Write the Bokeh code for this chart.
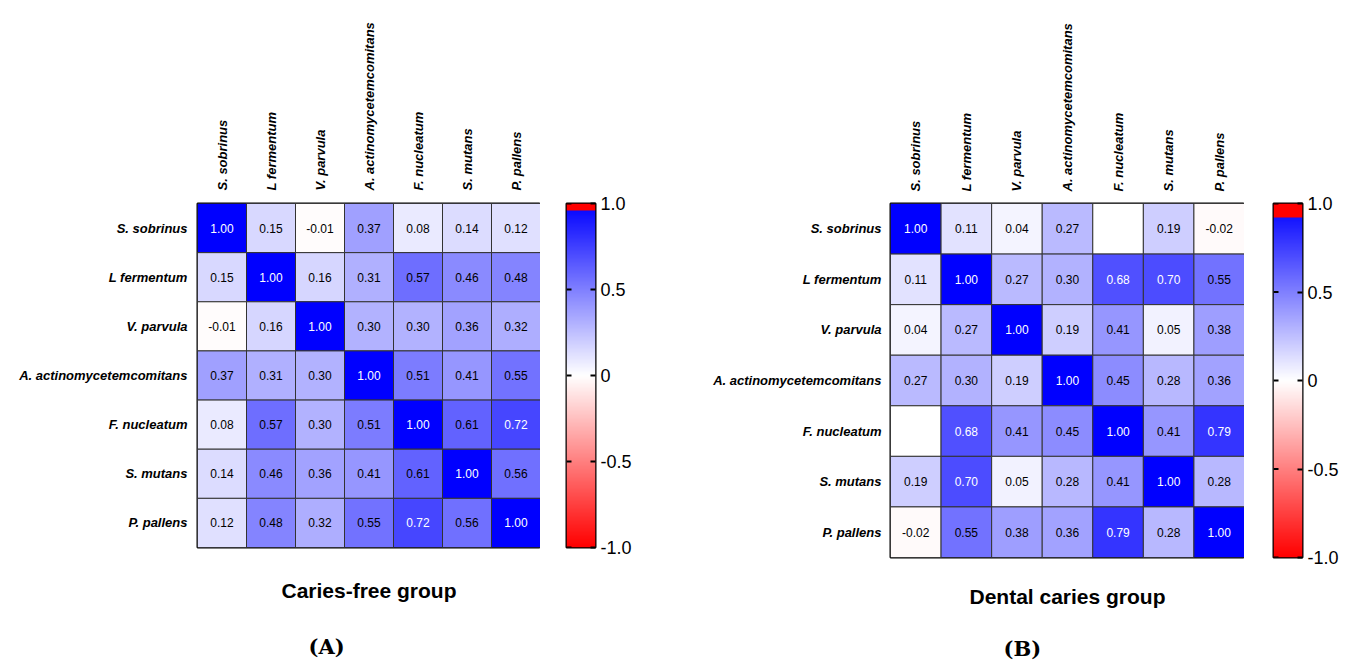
import numpy as np
from bokeh.plotting import figure
from bokeh.models import (ColumnDataSource, FactorRange, Range1d, LinearColorMapper,
                          LinearAxis, FixedTicker, Title)
from bokeh.layouts import row
from bokeh.transform import transform
from bokeh.core.properties import value
from bokeh.embed import file_html
from bokeh.resources import INLINE

# ---------------- data ----------------
species = ["S. sobrinus", "L fermentum", "V. parvula", "A. actinomycetemcomitans",
           "F. nucleatum", "S. mutans", "P. pallens"]

caries_free = [
    [1.00, 0.15, -0.01, 0.37, 0.08, 0.14, 0.12],
    [0.15, 1.00, 0.16, 0.31, 0.57, 0.46, 0.48],
    [-0.01, 0.16, 1.00, 0.30, 0.30, 0.36, 0.32],
    [0.37, 0.31, 0.30, 1.00, 0.51, 0.41, 0.55],
    [0.08, 0.57, 0.30, 0.51, 1.00, 0.61, 0.72],
    [0.14, 0.46, 0.36, 0.41, 0.61, 1.00, 0.56],
    [0.12, 0.48, 0.32, 0.55, 0.72, 0.56, 1.00],
]

dental_caries = [
    [1.00, 0.11, 0.04, 0.27, None, 0.19, -0.02],
    [0.11, 1.00, 0.27, 0.30, 0.68, 0.70, 0.55],
    [0.04, 0.27, 1.00, 0.19, 0.41, 0.05, 0.38],
    [0.27, 0.30, 0.19, 1.00, 0.45, 0.28, 0.36],
    [None, 0.68, 0.41, 0.45, 1.00, 0.41, 0.79],
    [0.19, 0.70, 0.05, 0.28, 0.41, 1.00, 0.28],
    [-0.02, 0.55, 0.38, 0.36, 0.79, 0.28, 1.00],
]

titles = ["Caries-free group", "Dental caries group"]
letters = ["(A)", "(B)"]
cbar_ticks = [-1.0, -0.5, 0.0, 0.5, 1.0]
cbar_tick_labels = ["-1.0", "-0.5", "0", "0.5", "1.0"]

SANS = "Liberation Sans"
TOP = 203
TOTAL_H = 660


def rgb_hex(v):
    if v < 0:
        c = int(round(255 * (1 + v)))
        return "#%02x%02x%02x" % (255, c, c)
    c = int(round(255 * (1 - v)))
    return "#%02x%02x%02x" % (c, c, 255)


N = 256
levels = np.linspace(-1, 1, N)
palette = [rgb_hex(v) for v in levels]


def heatmap(matrix, title, letter, fw, fh, left, letter_offset, col_standoff, row_standoff,
            title_standoff, letter_standoff):
    xs, ys, vals = [], [], []
    tx, ty, txt, tcol = [], [], [], []
    for i, rname in enumerate(species):
        for j, cname in enumerate(species):
            v = matrix[i][j]
            xs.append(cname)
            ys.append(rname)
            vals.append(np.nan if v is None else v)
            if v is not None:
                tx.append(cname)
                ty.append(rname)
                txt.append("%.2f" % v)
                tcol.append("white" if v >= 0.65 else "black")
    src = ColumnDataSource(dict(x=xs, y=ys, v=vals))
    tsrc = ColumnDataSource(dict(x=tx, y=ty, t=txt, tc=tcol))
    mapper = LinearColorMapper(palette=palette, low=-1, high=1, nan_color="white")

    p = figure(x_range=FactorRange(*species), y_range=FactorRange(*reversed(species)),
               x_axis_location="above", frame_width=fw, frame_height=fh,
               min_border_left=left, min_border_right=0, min_border_top=TOP,
               min_border_bottom=TOTAL_H - TOP - fh, toolbar_location=None, tools="",
               output_backend="svg")
    p.rect(x="x", y="y", width=1, height=1, source=src,
           fill_color=transform("v", mapper), line_color="#333333", line_width=1)
    p.text(x="x", y="y", text="t", source=tsrc, text_color="tc",
           text_align="center", text_baseline="middle",
           text_font=value(SANS), text_font_size="12px")
    p.grid.visible = False
    p.outline_line_color = "black"
    p.outline_line_width = 2
    for ax in (p.xaxis[0], p.yaxis[0]):
        ax.axis_line_color = None
        ax.major_tick_line_color = None
        ax.minor_tick_line_color = None
        ax.major_label_text_font = SANS
        ax.major_label_text_font_style = "bold italic"
        ax.major_label_text_font_size = "13px"
        ax.major_label_text_color = "black"
    p.xaxis.major_label_orientation = np.pi / 2
    p.xaxis.major_label_standoff = col_standoff
    p.yaxis.major_label_standoff = row_standoff

    p.add_layout(Title(text=title, align="center", text_font=SANS, text_font_style="bold",
                       text_font_size="21px", text_color="black",
                       standoff=title_standoff), "below")
    p.add_layout(Title(text=letter, align="left", offset=letter_offset, text_font="DejaVu Serif",
                       text_font_style="bold", text_font_size="21px", text_color="black",
                       standoff=letter_standoff), "below")
    return p


def colorbar(fh, left, right, red_from):
    cpal = [("#ff0000" if v > red_from else rgb_hex(v)) for v in levels]
    cmap = LinearColorMapper(palette=cpal, low=-1, high=1)
    cb = figure(x_range=Range1d(0, 1), y_range=Range1d(-1, 1), frame_width=29, frame_height=fh,
                min_border_left=left, min_border_right=right, min_border_top=TOP,
                min_border_bottom=TOTAL_H - TOP - fh, toolbar_location=None, tools="",
                x_axis_type=None, y_axis_type=None, output_backend="svg")
    grad = levels.reshape(-1, 1)
    cb.image(image=[grad], x=0, y=-1, dw=1, dh=2, color_mapper=cmap)
    # inward ticks on the left edge of the bar
    cb.segment(x0=[0] * len(cbar_ticks), y0=cbar_ticks, x1=[5 / 29] * len(cbar_ticks),
               y1=cbar_ticks, line_color="black", line_width=2)
    cb.grid.visible = False
    cb.outline_line_color = "black"
    cb.outline_line_width = 2
    ra = LinearAxis(ticker=FixedTicker(ticks=cbar_ticks),
                    major_label_overrides=dict(zip(cbar_ticks, cbar_tick_labels)))
    ra.axis_line_color = None
    ra.minor_tick_line_color = None
    ra.major_tick_in = 5
    ra.major_tick_out = 0
    ra.major_tick_line_color = "black"
    ra.major_tick_line_width = 2
    ra.major_label_text_font = SANS
    ra.major_label_text_font_size = "18px"
    ra.major_label_text_color = "black"
    ra.major_label_standoff = 5
    cb.add_layout(ra, "right")
    return cb


pA = heatmap(caries_free, titles[0], letters[0], 343, 344, 197, 111, 7, 4, 58, 3)
cA = colorbar(344, 26, 110, 0.962)
pB = heatmap(dental_caries, titles[1], letters[1], 354, 354, 185, 113, 6, 3, 51, 0)
cB = colorbar(354, 29, 50, 0.924)

layout = row(pA, cA, pB, cB, spacing=0)
open("out.html", "w").write(file_html(layout, INLINE))
